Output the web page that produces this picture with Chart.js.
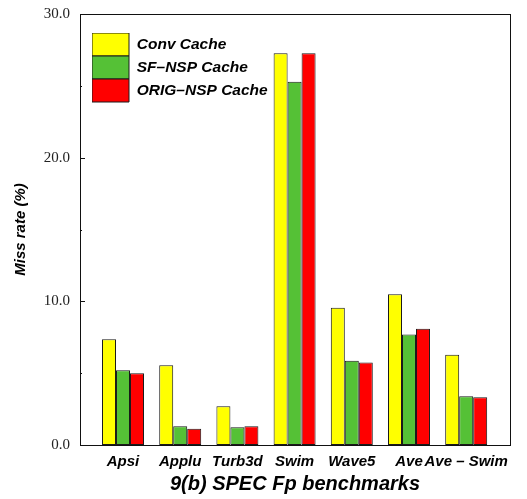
<!DOCTYPE html>
<html>
<head>
<meta charset="utf-8">
<script src="https://cdn.jsdelivr.net/npm/chart.js@4/dist/chart.umd.min.js"></script>
<style>
  html, body { margin: 0; padding: 0; background: #fff; }
  #wrap { width: 527px; height: 499px; }
</style>
</head>
<body>
<div id="wrap"><canvas id="c" width="527" height="499"></canvas></div>
<script>
// Benchmarks along the x axis
const benchmarks = ['Apsi', 'Applu', 'Turb3d', 'Swim', 'Wave5', 'Ave', 'Ave \u2013 Swim'];

// Miss rate (%) per cache design
const convCache   = [7.36, 5.55, 2.69, 27.26, 9.55, 10.49, 6.29];
const sfNspCache  = [5.20, 1.30, 1.23, 25.28, 5.87, 7.70, 3.39];
const origNspCache = [4.99, 1.13, 1.30, 27.26, 5.75, 8.10, 3.32];

const seriesNames = ['Conv Cache', 'SF\u2013NSP Cache', 'ORIG\u2013NSP Cache'];

// Y axis range and tick step
const yMin = 0, yMax = 30, yStep = 5;

const SANS = '"Liberation Sans", Arial, sans-serif';
const SERIF = '"Liberation Serif", "Times New Roman", serif';

const toPoints = arr => arr.map((v, i) => ({ x: i, y: v }));

// Box around the plot plus inward-pointing y ticks
const framePlugin = {
  id: 'frame',
  afterLayout(chart) {
    // place the in-plot legend a little inside the top-left corner
    const lg = chart.legend;
    if (lg) {
      const h = lg.bottom - lg.top;
      lg.left = chart.chartArea.left + 12;
      lg.top = chart.chartArea.top + 19;
      lg.bottom = lg.top + h;
    }
  },
  afterDatasetsDraw(chart) {
    const { ctx, chartArea: a } = chart;
    const ys = chart.scales.y;
    ctx.save();
    ctx.strokeStyle = '#111';
    ctx.lineWidth = 1;
    ctx.strokeRect(Math.round(a.left) + 0.5, Math.round(a.top) + 0.5,
                   Math.round(a.right - a.left), Math.round(a.bottom - a.top));
    ys.ticks.forEach(t => {
      const py = Math.round(ys.getPixelForValue(t.value)) + 0.5;
      const len = t.value % 10 === 0 ? 5 : 2;
      ctx.beginPath();
      ctx.moveTo(a.left, py);
      ctx.lineTo(a.left + len, py);
      ctx.stroke();
    });
    ctx.restore();
  }
};

new Chart(document.getElementById('c'), {
  type: 'bar',
  data: {
    datasets: [
      { label: seriesNames[0], data: toPoints(convCache), backgroundColor: '#FFFF00' },
      { label: seriesNames[1], data: toPoints(sfNspCache), backgroundColor: '#55C136' },
      { label: seriesNames[2], data: toPoints(origNspCache), backgroundColor: '#FF0000' }
    ].map(d => Object.assign(d, { borderColor: '#1a1a1a', borderWidth: 1, borderSkipped: false }))
  },
  options: {
    responsive: false,
    animation: false,
    layout: { padding: { left: 0, top: 14, right: 17, bottom: 0 } },
    datasets: { bar: { categoryPercentage: 0.734, barPercentage: 1.0 } },
    plugins: {
      tooltip: { enabled: false },
      legend: {
        position: 'chartArea',
        align: 'start',
        labels: {
          boxWidth: 37,
          boxHeight: 23,
          padding: 0,
          color: '#000',
          font: { family: SANS, size: 15.5, weight: 'bold', style: 'italic' }
        }
      }
    },
    scales: {
      x: {
        type: 'linear',
        offset: false,
        min: -0.752,
        max: 6.766,
        grid: { display: false, drawTicks: false, offset: false },
        border: { display: false },
        afterBuildTicks: axis => { axis.ticks = benchmarks.map((_, i) => ({ value: i })); },
        afterFit: axis => { axis.height = 54; axis.paddingLeft = 0; axis.paddingRight = 0; },
        ticks: {
          autoSkip: false,
          maxRotation: 0,
          padding: 8,
          color: '#000',
          font: { family: SANS, size: 15, weight: 'bold', style: 'italic' },
          callback: v => benchmarks[v]
        },
        title: {
          display: true,
          text: '9(b) SPEC Fp benchmarks',
          color: '#000',
          padding: { top: 0, bottom: 3 },
          font: { family: SANS, size: 20, weight: 'bold', style: 'italic' }
        }
      },
      y: {
        min: yMin,
        max: yMax,
        grid: { display: false, drawTicks: false },
        border: { display: false },
        afterFit: axis => { axis.width = 80; axis.paddingTop = 0; axis.paddingBottom = 0; },
        ticks: {
          stepSize: yStep,
          padding: 10,
          color: '#222',
          font: { family: SERIF, size: 15 },
          callback: v => (v % 10 === 0 ? v.toFixed(1) : '')
        },
        title: {
          display: true,
          text: 'Miss rate (%)',
          color: '#000',
          padding: { top: 12, bottom: 0 },
          font: { family: SANS, size: 15, weight: 'bold', style: 'italic' }
        }
      }
    }
  },
  plugins: [framePlugin]
});
</script>
</body>
</html>
